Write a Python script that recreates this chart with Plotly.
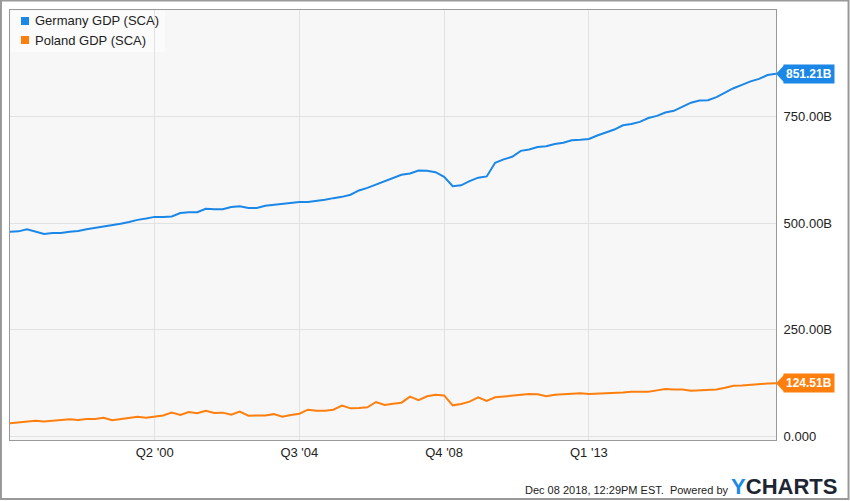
import plotly.graph_objects as go
import pandas as pd

quarters = pd.date_range("1996-01-01", "2018-07-01", freq="QS").strftime("%Y-%m-%d").tolist()

germany = [480, 481, 486, 481, 475, 477, 477, 480, 482, 486, 489, 493, 496, 499, 503, 508,
           511, 515, 515, 516, 524, 526, 526, 534, 533, 533, 538, 540, 536, 536, 541, 543,
           546, 548, 550, 550, 552, 555, 559, 562, 567, 577, 583, 591, 600, 606, 614, 617,
           624, 623, 620, 609, 587, 589, 599, 607, 610, 642, 650, 656, 670, 673, 679, 681,
           686, 689, 695, 696, 698, 706, 713, 720, 730, 733, 738, 747, 752, 760, 764, 773,
           783, 788, 789, 796, 807, 817, 825, 833, 839, 848, 851.21]

poland = [30.5, 32, 33.5, 36.6, 35, 36.6, 37.5, 40, 38, 40.6, 40.6, 43.7, 37.5, 40.6, 42, 46,
          43.7, 46, 49, 55.5, 50, 57, 54, 60, 54.5, 55.5, 50.7, 57.8, 48.4, 49, 49, 52,
          46, 50, 53, 62.5, 60, 60, 62.5, 72, 65.6, 66.5, 68, 80.5, 73.5, 76.6, 78.9, 93,
          85, 93.8, 97.7, 96, 72.7, 75.8, 81.3, 91.4, 83, 91.4, 93, 95.3, 97.7, 99.2, 98.5, 93.8,
          97.7, 98.5, 100.8, 100.8, 99.2, 100, 100, 102.4, 103, 104.7, 105.5, 104.7, 107.8, 110.9, 110, 110,
          107, 107.8, 108.6, 110, 114, 118.6, 119.4, 121, 123.5, 124, 124.51]

series_names = ["Germany GDP (SCA)", "Poland GDP (SCA)"]
series_colors = ["#1b87e6", "#ff7f0e"]
last_labels = ["851.21B", "124.51B"]

x_tickvals = ["2000-04-01", "2004-07-01", "2008-10-01", "2013-01-01"]
x_ticktext = ["Q2 '00", "Q3 '04", "Q4 '08", "Q1 '13"]
y_tickvals = [0, 250, 500, 750]
y_ticktext = ["0.000", "250.00B", "500.00B", "750.00B"]

# plot area in pixels: x 10..776, y 10..440
def px(x):
    return (x - 10) / 766.0

def py(y):
    return (440 - y) / 430.0

fig = go.Figure()
for name, data, col in zip(series_names, [germany, poland], series_colors):
    fig.add_trace(go.Scatter(x=quarters, y=data, mode="lines", line=dict(color=col, width=2),
                             name=name, showlegend=False, hoverinfo="skip"))

# legend drawn by hand (square swatches + text)
fig.add_shape(type="rect", xref="paper", yref="paper", x0=px(11), x1=px(165), y0=py(52), y1=py(11),
              fillcolor="#fbfbfb", line=dict(width=0), layer="below")
for k, (name, col) in enumerate(zip(series_names, series_colors)):
    cy = 21 + 19 * k
    fig.add_shape(type="rect", xref="paper", yref="paper", x0=px(21), x1=px(29), y0=py(cy + 4), y1=py(cy - 4),
                  fillcolor=col, line=dict(width=0))
    fig.add_annotation(x=px(33), xref="paper", y=py(cy), yref="paper", text=name, showarrow=False,
                       xanchor="left", yanchor="middle",
                       font=dict(family="Arial", size=13, color="#222222"))

# value tags on the right
for data, col, lab in zip([germany, poland], series_colors, last_labels):
    yv = data[-1]
    fig.add_annotation(x=1.0, xref="paper", y=yv, yref="y", text="<b>" + lab + "</b>",
                       showarrow=False, xanchor="left", yanchor="middle", xshift=7,
                       font=dict(family="Arial", size=12, color="white"),
                       bgcolor=col, borderpad=2, height=14)
    fig.add_shape(type="path", xref="paper", yref="y",
                  path=f"M 1.0 {yv} L 1.0105 {yv + 20} L 1.0105 {yv - 20} Z",
                  fillcolor=col, line=dict(width=0))

# outer frame
fig.add_shape(type="rect", xref="paper", yref="paper", x0=-0.0118, x1=1.0947, y0=-0.1372, y1=1.0221,
              line=dict(color="#999999", width=2), fillcolor="rgba(0,0,0,0)", layer="above")

fig.add_annotation(x=1.0947, xref="paper", y=py(486), yref="paper", xanchor="right", yanchor="middle",
                   xshift=-10, showarrow=False,
                   text="Dec 08 2018, 12:29PM EST.  Powered by <b><span style='font-size:22px;color:#1b8ae6'>Y</span><span style='font-size:22px;color:#1c2633'>CHARTS</span></b>",
                   font=dict(family="Arial", size=11, color="#222222"))

fig.update_layout(
    width=850, height=501,
    margin=dict(l=10, r=74, t=10, b=61),
    paper_bgcolor="white", plot_bgcolor="#f7f7f7",
    font=dict(family="Arial", size=12, color="#333333"),
    showlegend=False,
    xaxis=dict(type="date", range=["1996-01-01", "2018-07-01"], tickvals=x_tickvals, ticktext=x_ticktext,
               showgrid=True, gridcolor="#e2e2e2", showline=True, linecolor="#999999", mirror=True,
               ticks="", tickfont=dict(size=13, color="#222222"), zeroline=False),
    yaxis=dict(range=[-8.7, 1000.6], side="right", tickvals=y_tickvals, ticktext=y_ticktext,
               showgrid=True, gridcolor="#e2e2e2", showline=True, linecolor="#999999", mirror=True,
               ticks="", tickfont=dict(size=13, color="#222222"), zeroline=False,
               ticklabelstandoff=4),
)

fig.write_html("out.html")
